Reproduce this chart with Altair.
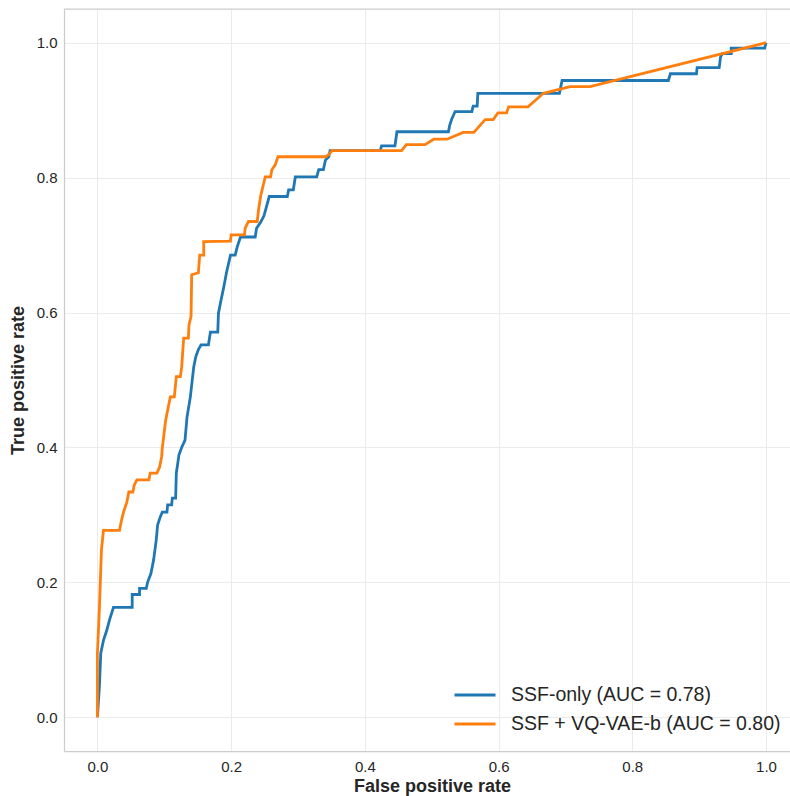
import altair as alt
import pandas as pd

# ROC vertices
ssf_fpr = [0.0, 0.003, 0.005, 0.009, 0.014, 0.018, 0.024, 0.052, 0.052, 0.063, 0.063, 0.073, 0.075, 0.080,
           0.084, 0.088, 0.090, 0.094, 0.097, 0.104, 0.105, 0.111, 0.112, 0.117, 0.118, 0.122, 0.126, 0.131,
           0.134, 0.139, 0.144, 0.147, 0.151, 0.155, 0.166, 0.169, 0.180, 0.181, 0.185, 0.189, 0.193, 0.199,
           0.206, 0.209, 0.214, 0.236, 0.238, 0.244, 0.249, 0.257, 0.284, 0.286, 0.293, 0.296, 0.328, 0.331,
           0.338, 0.341, 0.346, 0.348, 0.423, 0.425, 0.445, 0.448, 0.525, 0.527, 0.530, 0.535, 0.560, 0.562,
           0.568, 0.569, 0.691, 0.695, 0.854, 0.857, 0.896, 0.897, 0.930, 0.932, 0.935, 0.948, 0.948, 0.998, 1.0]
ssf_tpr = [0.0, 0.047, 0.095, 0.114, 0.129, 0.144, 0.163, 0.163, 0.182, 0.182, 0.191, 0.191, 0.200, 0.213,
           0.233, 0.263, 0.285, 0.297, 0.304, 0.304, 0.315, 0.315, 0.325, 0.325, 0.362, 0.389, 0.400, 0.411,
           0.445, 0.475, 0.519, 0.534, 0.545, 0.552, 0.552, 0.571, 0.571, 0.599, 0.619, 0.638, 0.659, 0.685,
           0.685, 0.697, 0.712, 0.712, 0.725, 0.734, 0.743, 0.772, 0.772, 0.782, 0.782, 0.801, 0.801, 0.812,
           0.812, 0.826, 0.831, 0.840, 0.840, 0.847, 0.847, 0.868, 0.868, 0.878, 0.887, 0.898, 0.898, 0.906,
           0.906, 0.925, 0.925, 0.944, 0.944, 0.954, 0.954, 0.963, 0.963, 0.979, 0.984, 0.984, 0.992, 0.992, 1.0]

vq_fpr = [0.0, 0.0, 0.003, 0.006, 0.009, 0.033, 0.036, 0.039, 0.044, 0.047, 0.053, 0.055, 0.059, 0.077,
          0.079, 0.089, 0.093, 0.096, 0.097, 0.102, 0.109, 0.115, 0.118, 0.124, 0.126, 0.129, 0.136, 0.137,
          0.140, 0.141, 0.151, 0.153, 0.159, 0.159, 0.199, 0.200, 0.220, 0.221, 0.226, 0.239, 0.241, 0.244,
          0.251, 0.259, 0.261, 0.266, 0.270, 0.341, 0.346, 0.351, 0.455, 0.462, 0.490, 0.503, 0.523, 0.547,
          0.563, 0.580, 0.592, 0.599, 0.612, 0.615, 0.644, 0.667, 0.707, 0.737, 1.0]
vq_tpr = [0.0, 0.095, 0.163, 0.248, 0.277, 0.277, 0.292, 0.304, 0.319, 0.334, 0.334, 0.344, 0.352, 0.352,
          0.362, 0.362, 0.371, 0.386, 0.399, 0.440, 0.475, 0.475, 0.505, 0.505, 0.519, 0.562, 0.562, 0.582,
          0.594, 0.656, 0.659, 0.685, 0.685, 0.705, 0.706, 0.715, 0.715, 0.725, 0.735, 0.735, 0.752, 0.772,
          0.801, 0.801, 0.812, 0.819, 0.831, 0.831, 0.834, 0.840, 0.840, 0.849, 0.849, 0.857, 0.857, 0.867,
          0.867, 0.886, 0.886, 0.896, 0.896, 0.905, 0.905, 0.925, 0.935, 0.935, 1.0]

series_names = ["SSF-only (AUC = 0.78)", "SSF + VQ-VAE-b (AUC = 0.80)"]
series_colors = ["#1f77b4", "#ff7f0e"]
tick_values = [0.0, 0.2, 0.4, 0.6, 0.8, 1.0]

rows = []
for name, fx, ty in [(series_names[0], ssf_fpr, ssf_tpr), (series_names[1], vq_fpr, vq_tpr)]:
    for i, (a, b) in enumerate(zip(fx, ty)):
        rows.append({"series": name, "fpr": a, "tpr": b, "i": i})
df = pd.DataFrame(rows)

FONT = "Liberation Sans"
W, H = 726, 742

lines = alt.Chart(df).mark_line(strokeWidth=2.8, clip=True).encode(
    x=alt.X("fpr:Q", scale=alt.Scale(domain=[-0.05, 1.0359], nice=False, zero=False),
            axis=alt.Axis(values=tick_values, format=".1f", title="False positive rate",
                          titleX=368, titleY=40, titleBaseline="alphabetic")),
    y=alt.Y("tpr:Q", scale=alt.Scale(domain=[-0.05, 1.05], nice=False, zero=False),
            axis=alt.Axis(values=tick_values, format=".1f", title="True positive rate",
                          titleX=-41, titleY=H / 2, titleBaseline="alphabetic", titleAlign="center")),
    color=alt.Color("series:N", scale=alt.Scale(domain=series_names, range=series_colors),
                    legend=alt.Legend(title=None, orient="none", legendX=399, legendY=674,
                                      symbolType="M-2,0H2", symbolSize=420, symbolStrokeWidth=3,
                                      labelFontSize=19.5, labelFont=FONT, labelColor="#262626",
                                      labelLimit=0, labelOffset=24, rowPadding=7)),
    order=alt.Order("i:Q"),
)

top_border = alt.Chart(pd.DataFrame({"a": [0]})).mark_rule(color="#cccccc", strokeWidth=1.25).encode(
    x=alt.value(0), x2=alt.value(W), y=alt.value(0)
)

chart = alt.layer(top_border, lines).properties(
    width=W, height=H,
    autosize=alt.AutoSizeParams(type="none"),
    padding={"left": 64, "top": 9, "right": 0, "bottom": 45},
).configure_view(stroke=None).configure_axis(
    grid=True, gridColor="#ebebeb", gridWidth=1,
    domainColor="#cccccc", domainWidth=1.25,
    ticks=False, labelFont=FONT, labelFontSize=15, labelColor="#262626",
    titleFont=FONT, titleFontSize=18, titleFontWeight="bold", titleColor="#262626",
).configure_axisX(labelPadding=8).configure_axisY(labelPadding=7)

chart.save("out.html", embed_options={"renderer": "svg", "actions": False})
